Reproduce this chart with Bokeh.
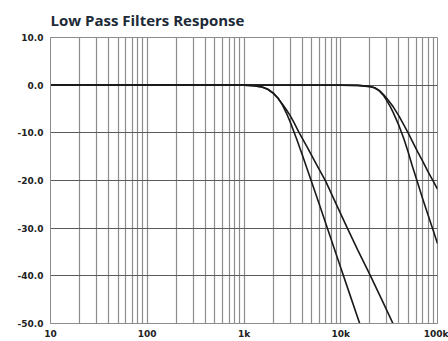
from bokeh.plotting import figure
from bokeh.models import FixedTicker, PrintfTickFormatter, Range1d
from bokeh.embed import file_html
from bokeh.resources import INLINE

# ---- data ----
x_ticks = [10, 100, 1000, 10000, 100000]
x_tick_labels = ["10", "100", "1k", "10k", "100k"]
y_ticks = [-50, -40, -30, -20, -10, 0, 10]

# low cutoff, steeper (3rd order)
freq_a = [10, 1000, 1250, 1500, 1750, 2000, 2250, 2500, 2750, 3000, 3500, 4000,
          5000, 6000, 7500, 10000, 12500, 16000]
db_a = [0, 0, -0.1, -0.3, -0.8, -1.6, -2.7, -4.2, -5.9, -7.7, -11.3, -14.6,
        -20.3, -25.0, -30.8, -38.3, -44.1, -50.5]

# low cutoff, shallower (2nd order)
freq_b = [10, 1000, 1250, 1500, 1750, 2000, 2250, 2500, 2750, 3000, 3300, 3700,
          4500, 5500, 7000, 9000, 11700, 15000, 20300, 27000, 35000]
db_b = [0, 0, -0.1, -0.35, -0.85, -1.7, -2.8, -4.0, -5.2, -6.4, -7.9, -9.9,
        -13.0, -16.3, -20.2, -25.0, -30.0, -34.6, -40.0, -45.3, -50.2]

# high cutoff, steeper (3rd order)
freq_c = [10, 10000, 15000, 20000, 22500, 25000, 27500, 30000, 32500, 35000, 40000,
          45000, 50000, 55000, 62000, 70000, 80000, 90000, 100000]
db_c = [0, 0, -0.05, -0.3, -0.6, -1.2, -2.1, -3.3, -4.5, -5.8, -8.5,
        -11.3, -14.2, -17.0, -20.3, -23.7, -27.3, -30.4, -33.2]

# high cutoff, shallower (2nd order)
freq_d = [10, 10000, 15000, 20000, 22500, 25000, 27500, 30000, 35000, 40000, 45000,
          50000, 55000, 62000, 70000, 80000, 90000, 100000]
db_d = [0, 0, -0.05, -0.25, -0.55, -1.1, -1.9, -2.8, -4.6, -6.5, -8.4,
        -10.1, -11.8, -13.9, -15.9, -18.2, -20.1, -21.8]

LINE = "#1a1a1a"

p = figure(width=448, height=340, x_axis_type="log",
           x_range=Range1d(10, 100000), y_range=Range1d(-50, 10),
           output_backend="svg", toolbar_location=None,
           min_border_left=50, min_border_right=11, min_border_top=37, min_border_bottom=17,
           frame_width=387, frame_height=286)

p.title.text = "Low Pass Filters Response"
p.title.text_font = "Open Sans"
p.title.text_font_size = "15px"
p.title.text_font_style = "bold"
p.title.text_color = "#1d2a38"
p.title.align = "left"
p.title.offset = 0
p.title.standoff = 15

for f, d in [(freq_a, db_a), (freq_b, db_b), (freq_c, db_c), (freq_d, db_d)]:
    p.line(f, d, line_color=LINE, line_width=1.6)

minor = [m * 10 ** e for e in range(1, 5) for m in range(2, 10)]
p.xaxis.ticker = FixedTicker(ticks=x_ticks, minor_ticks=minor)
p.xaxis.major_label_overrides = {t: l for t, l in zip(x_ticks, x_tick_labels)}
p.yaxis.ticker = FixedTicker(ticks=y_ticks)
p.yaxis.formatter = PrintfTickFormatter(format="%.1f")

for ax in (p.xaxis, p.yaxis):
    ax.major_tick_out = 0
    ax.major_tick_in = 0
    ax.minor_tick_out = 0
    ax.minor_tick_in = 0
    ax.axis_line_color = "#8c8c8c"
    ax.major_label_text_font = "DejaVu Sans"
    ax.major_label_text_font_style = "bold"
    ax.major_label_text_font_size = "9px"
    ax.major_label_text_color = "#222222"
p.xaxis.major_label_standoff = 5
p.yaxis.major_label_standoff = 7

p.xgrid.grid_line_color = "#8c8c8c"
p.xgrid.minor_grid_line_color = "#8c8c8c"
p.xgrid.grid_line_width = 1.2
p.xgrid.minor_grid_line_width = 1.2
p.ygrid.grid_line_color = "#5a5a5a"
p.ygrid.grid_line_width = 1

p.outline_line_color = "#8c8c8c"
p.background_fill_color = "white"
p.border_fill_color = "white"

open("out.html", "w").write(file_html(p, INLINE))
